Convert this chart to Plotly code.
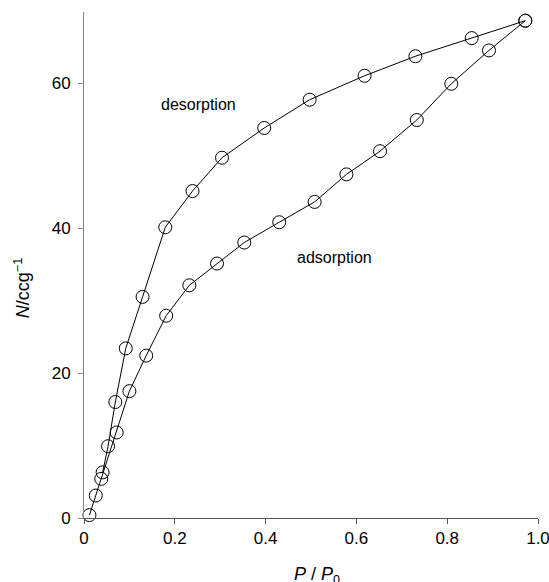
import plotly.graph_objects as go

ads_x = [0.012, 0.026, 0.038, 0.072, 0.100, 0.137, 0.181, 0.232, 0.293, 0.353,
         0.430, 0.508, 0.578, 0.652, 0.733, 0.809, 0.892, 0.972]
ads_y = [0.4, 3.1, 5.4, 11.8, 17.5, 22.4, 27.9, 32.1, 35.1, 38.0,
         40.8, 43.6, 47.4, 50.6, 54.9, 59.9, 64.5, 68.6]

des_x = [0.972, 0.854, 0.730, 0.618, 0.497, 0.397, 0.304, 0.239, 0.179, 0.129,
         0.092, 0.069, 0.053, 0.041]
des_y = [68.6, 66.2, 63.7, 61.0, 57.7, 53.8, 49.7, 45.1, 40.1, 30.5,
         23.4, 16.0, 9.9, 6.3]

x_ticks = [0, 0.2, 0.4, 0.6, 0.8, 1.0]
x_tick_labels = ["0", "0.2", "0.4", "0.6", "0.8", "1.0"]
y_ticks = [0, 20, 40, 60]

font = "Liberation Sans, Arial, Helvetica, sans-serif"

fig = go.Figure()
for xs, ys in [(ads_x, ads_y), (des_x, des_y)]:
    fig.add_trace(go.Scatter(
        x=xs, y=ys, mode="lines+markers",
        line=dict(color="black", width=1),
        marker=dict(symbol="circle-open", size=13, color="black", line=dict(width=1)),
        showlegend=False, cliponaxis=False,
    ))

fig.add_annotation(x=0.252, y=57.1, text="desorption", showarrow=False,
                   font=dict(size=16, color="black", family=font))
fig.add_annotation(x=0.552, y=35.9, text="adsorption", showarrow=False,
                   font=dict(size=16, color="black", family=font))
fig.add_annotation(xref="paper", yref="paper", x=0.5127, y=-0.087, yanchor="top",
                   text="<i>P</i> /<i> P</i><sub>0</sub>", showarrow=False,
                   font=dict(size=18, color="black", family=font))
fig.add_annotation(xref="paper", yref="paper", x=-0.1356, y=0.455, xanchor="center",
                   yanchor="middle", textangle=-90, text="<i>N</i>/ccg<sup>−1</sup>",
                   showarrow=False, font=dict(size=18, color="black", family=font))

fig.update_layout(
    width=549, height=582,
    margin=dict(l=84, r=11, t=12, b=64),
    paper_bgcolor="white", plot_bgcolor="white",
    font=dict(family=font, size=17, color="black"),
    xaxis=dict(range=[0, 1.0], tickvals=x_ticks, ticktext=x_tick_labels,
               showgrid=False, zeroline=False, showline=True, linecolor="#555",
               linewidth=1, ticks="outside", ticklen=5, tickcolor="#555",
               ticklabeloverflow="allow", automargin=False),
    yaxis=dict(range=[0, 69.8], tickvals=y_ticks, showgrid=False, zeroline=False,
               showline=True, linecolor="#888", linewidth=1, ticks="outside",
               ticklen=5, tickcolor="#888", ticklabelstandoff=4, automargin=False),
)

fig.write_html("out.html", config={"displayModeBar": False},
               post_script="document.body.style.margin='0';document.body.style.overflow='hidden';")
